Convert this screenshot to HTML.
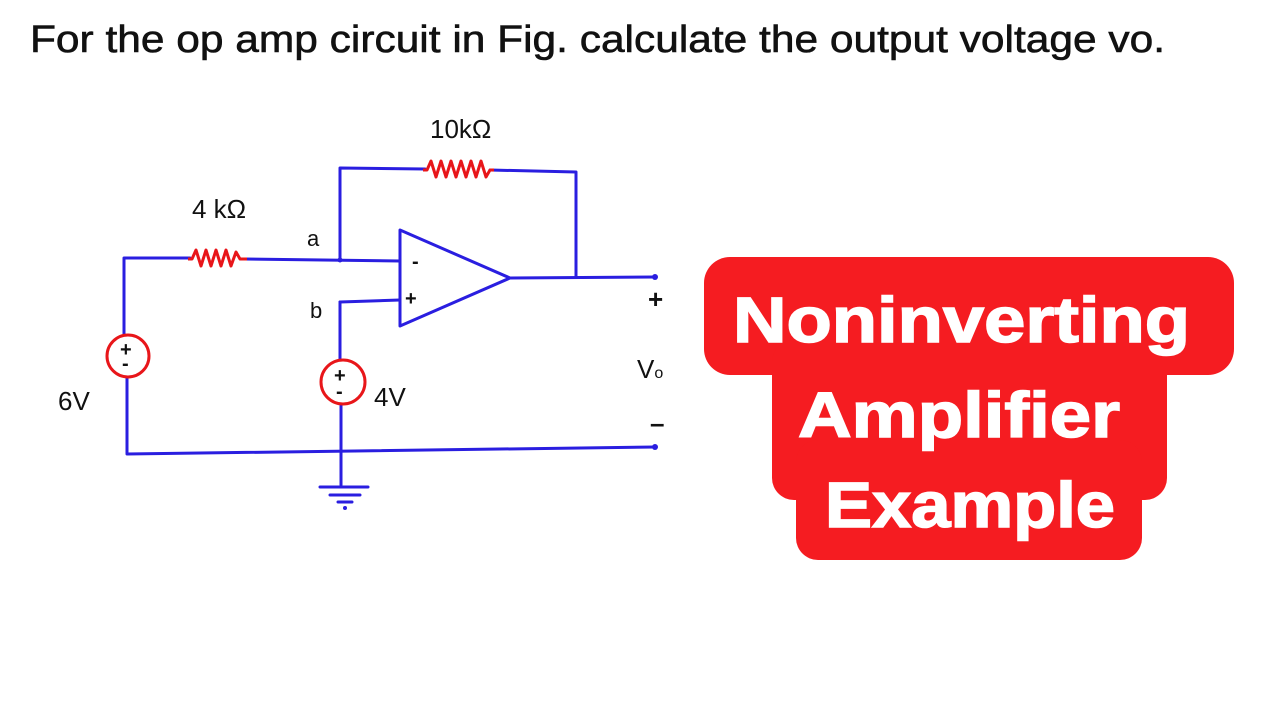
<!DOCTYPE html>
<html><head><meta charset="utf-8"><style>
html,body{margin:0;padding:0;background:#fff;width:1280px;height:720px;overflow:hidden}
svg{display:block}
</style></head><body>
<svg width="1280" height="720" viewBox="0 0 1280 720" xmlns="http://www.w3.org/2000/svg">
<text x="30" y="52" font-family="Liberation Sans, sans-serif" font-size="38" fill="#111" stroke="#111" stroke-width="0.6" textLength="1135" lengthAdjust="spacingAndGlyphs">For the op amp circuit in Fig. calculate the output voltage vo.</text>
<g fill="none" stroke="#2a1ee0" stroke-width="3" stroke-linecap="round" stroke-linejoin="round">
<polyline points="190,258 124,258 124,335"/>
<polyline points="245,259 400,261"/>
<polyline points="340,260 340,168 425,169"/>
<polyline points="490,170 576,172 576,277"/>
<polygon points="400,230 400,326 510,278"/>
<polyline points="510,278 655,277"/>
<polyline points="340,302 400,300"/>
<polyline points="340,302 340,360"/>
<polyline points="341,404 341,485"/>
<polyline points="127,377 127,454 655,447"/>
<line x1="320" y1="487" x2="368" y2="487"/>
<line x1="330" y1="495" x2="360" y2="495"/>
<line x1="338" y1="502" x2="352" y2="502"/>
</g>
<g fill="#2a1ee0"><circle cx="655" cy="277" r="3"/><circle cx="655" cy="447" r="3"/><circle cx="345" cy="508" r="2"/><circle cx="340" cy="260" r="2.5"/></g>
<g fill="none" stroke="#e8161a" stroke-width="3" stroke-linejoin="round">
<polyline points="188,259 192,259 196,250 201,266 206,250 211,266 216,250 221,266 226,250 231,266 236,252 240,259 247,259"/>
<polyline points="423,170 427,170 431,161 436,177 441,161 446,177 451,161 456,177 461,161 466,177 471,161 476,177 481,161 486,177 490,170 494,170"/>
<circle cx="128" cy="356" r="21"/>
<circle cx="343" cy="382" r="22"/>
</g>
<g font-family="Liberation Sans, sans-serif" fill="#111" font-size="26">
<text x="192" y="218">4 kΩ</text>
<text x="430" y="138">10kΩ</text>
<text x="307" y="246" font-size="22">a</text>
<text x="310" y="318" font-size="22">b</text>
<text x="58" y="410">6V</text>
<text x="374" y="406">4V</text>
<text x="648" y="308" font-weight="bold">+</text>
<text x="637" y="378">V<tspan font-size="16">o</tspan></text>
<text x="650" y="432" font-weight="bold">–</text>
<text x="120" y="356" font-size="20" font-weight="bold">+</text>
<text x="122" y="370" font-size="20" font-weight="bold">-</text>
<text x="334" y="382" font-size="20" font-weight="bold">+</text>
<text x="336" y="398" font-size="20" font-weight="bold">-</text>
<text x="412" y="268" font-size="20" font-weight="bold">-</text>
<text x="405" y="305" font-size="20" font-weight="bold">+</text>
</g>
<g fill="#f51c21">
<rect x="704" y="257" width="530" height="118" rx="26"/>
<rect x="772" y="340" width="395" height="160" rx="22"/>
<rect x="796" y="440" width="346" height="120" rx="22"/>
</g>
<g font-family="Liberation Sans, sans-serif" font-weight="bold" fill="#fff" stroke="#fff" stroke-width="1.5" font-size="64">
<text x="733" y="342" textLength="457" lengthAdjust="spacingAndGlyphs">Noninverting</text>
<text x="798" y="437" textLength="322" lengthAdjust="spacingAndGlyphs">Amplifier</text>
<text x="825" y="527" textLength="290" lengthAdjust="spacingAndGlyphs">Example</text>
</g>
</svg>
</body></html>
